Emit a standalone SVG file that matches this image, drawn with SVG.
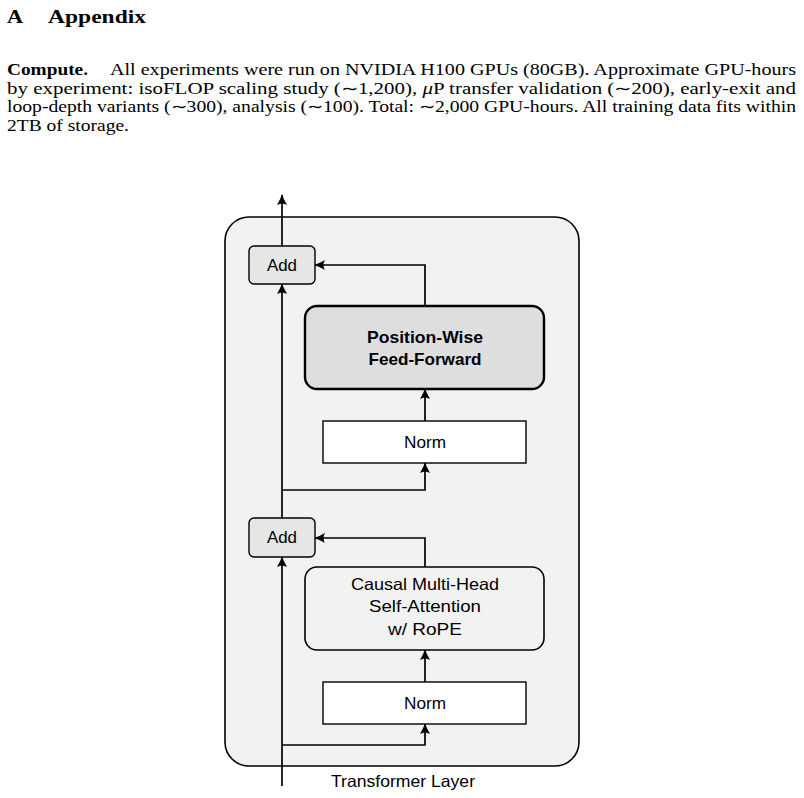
<svg xmlns="http://www.w3.org/2000/svg" width="804" height="798" viewBox="0 0 804 798">
<style>
.serif{font-family:"Liberation Serif","Times New Roman",serif;fill:#000}
.sans{font-family:"Liberation Sans",Arial,sans-serif;font-size:16.5px;fill:#000;text-anchor:middle}
.conn{fill:none;stroke:#000;stroke-width:1.7}
</style>
<defs>
<marker id="arr" viewBox="-11 -6 12 12" markerWidth="12" markerHeight="12" refX="0" refY="0" orient="auto" markerUnits="userSpaceOnUse">
<path d="M0.8,0 Q-4,-1.5 -10,-5 Q-7,0 -10,5 Q-4,1.5 0.8,0 Z" fill="#000"/>
</marker>
</defs>
<rect width="804" height="798" fill="#fff"/>
<g id="text">
<text class="serif" font-weight="bold" font-size="19" x="7" y="23" textLength="16" lengthAdjust="spacingAndGlyphs">A</text>
<text class="serif" font-weight="bold" font-size="19" x="48" y="23" textLength="98" lengthAdjust="spacingAndGlyphs">Appendix</text>
<text class="serif" font-weight="bold" font-size="16" x="7" y="75" textLength="81" lengthAdjust="spacingAndGlyphs">Compute.</text>
<text class="serif" font-size="16" x="110" y="75" textLength="686" lengthAdjust="spacingAndGlyphs">All experiments were run on NVIDIA H100 GPUs (80GB). Approximate GPU-hours</text>
<text class="serif" font-size="16" x="7" y="93.5" textLength="789" lengthAdjust="spacingAndGlyphs">by experiment:  isoFLOP scaling study (∼1,200), <tspan font-style="italic">μ</tspan>P transfer validation (∼200), early-exit and</text>
<text class="serif" font-size="16" x="7" y="112" textLength="789" lengthAdjust="spacingAndGlyphs">loop-depth variants (∼300), analysis (∼100). Total: ∼2,000 GPU-hours. All training data fits within</text>
<text class="serif" font-size="16" x="7" y="130.5" textLength="122" lengthAdjust="spacingAndGlyphs">2TB of storage.</text>
</g>
<g id="layer">
<rect x="225" y="217" width="354" height="549" rx="24" fill="#f2f2f2" stroke="#000" stroke-width="1.6"/>
<text class="sans" x="403" y="787" textLength="144" lengthAdjust="spacingAndGlyphs">Transformer Layer</text>
</g>
<g id="connectors">
<path class="conn" d="M282,786 V557" marker-end="url(#arr)"/>
<path class="conn" d="M282,518 V284" marker-end="url(#arr)"/>
<path class="conn" d="M282,246 V195" marker-end="url(#arr)"/>
<path class="conn" d="M282,745 H425 V724" marker-end="url(#arr)"/>
<path class="conn" d="M425,682 V650" marker-end="url(#arr)"/>
<path class="conn" d="M425,567 V538 H315" marker-end="url(#arr)"/>
<path class="conn" d="M282,490 H425 V463" marker-end="url(#arr)"/>
<path class="conn" d="M425,421 V389" marker-end="url(#arr)"/>
<path class="conn" d="M425,306 V265 H315" marker-end="url(#arr)"/>
</g>
<g id="norm1">
<rect x="323" y="682" width="203" height="42" fill="#fff" stroke="#000" stroke-width="1.4"/>
<text class="sans" x="425" y="709" textLength="42" lengthAdjust="spacingAndGlyphs">Norm</text>
</g>
<g id="attention">
<rect x="305" y="567" width="239" height="83" rx="12" fill="#f2f2f2" stroke="#000" stroke-width="1.6"/>
<text class="sans" x="425" y="590" textLength="148" lengthAdjust="spacingAndGlyphs">Causal Multi-Head</text>
<text class="sans" x="425" y="612" textLength="112" lengthAdjust="spacingAndGlyphs">Self-Attention</text>
<text class="sans" x="425" y="635" textLength="74" lengthAdjust="spacingAndGlyphs">w/ RoPE</text>
</g>
<g id="add1">
<rect x="249" y="518" width="66" height="39" rx="5" fill="#e6e6e6" stroke="#000" stroke-width="1.4"/>
<text class="sans" x="282" y="543" textLength="30" lengthAdjust="spacingAndGlyphs">Add</text>
</g>
<g id="norm2">
<rect x="323" y="421" width="203" height="42" fill="#fff" stroke="#000" stroke-width="1.4"/>
<text class="sans" x="425" y="448" textLength="42" lengthAdjust="spacingAndGlyphs">Norm</text>
</g>
<g id="ffn">
<rect x="305" y="306" width="239" height="83" rx="12" fill="#dedede" stroke="#000" stroke-width="2.4"/>
<text class="sans" x="425" y="343" font-weight="bold" textLength="116" lengthAdjust="spacingAndGlyphs">Position-Wise</text>
<text class="sans" x="425" y="365" font-weight="bold" textLength="113" lengthAdjust="spacingAndGlyphs">Feed-Forward</text>
</g>
<g id="add2">
<rect x="249" y="246" width="66" height="38" rx="5" fill="#e6e6e6" stroke="#000" stroke-width="1.4"/>
<text class="sans" x="282" y="271" textLength="30" lengthAdjust="spacingAndGlyphs">Add</text>
</g>
</svg>
